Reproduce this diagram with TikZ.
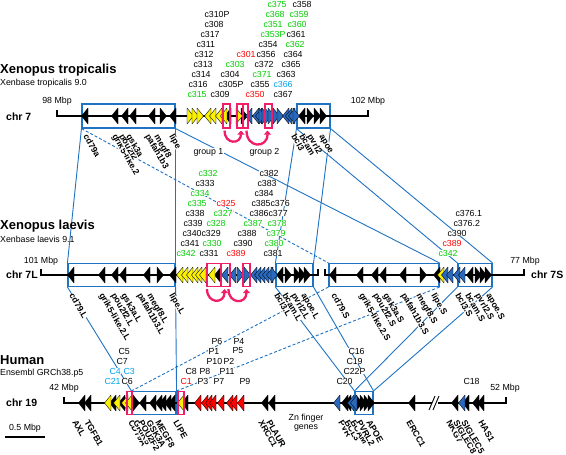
\documentclass[tikz,border=0pt]{standalone}
\usepackage{fontspec}
\setmainfont{Liberation Sans}
\usepackage{xcolor}
\usetikzlibrary{arrows.meta}

\definecolor{linkblue}{RGB}{30,115,195}
\definecolor{boxpink}{RGB}{240,30,105}
\definecolor{labgreen}{RGB}{0,205,0}
\definecolor{labred}{RGB}{255,0,0}
\definecolor{labcyan}{RGB}{0,165,235}
\definecolor{geneyellow}{RGB}{250,240,0}
\definecolor{geneblue}{RGB}{40,105,190}

% one gene arrow: x, y, direction (1 or -1), fill
\newcommand{\gn}[4]{\filldraw[fill=#4, draw=black, line width=0.35pt, line join=round] ({#1-(#3)*3},{#2-8}) -- ({#1+(#3)*3.5},#2) -- ({#1-(#3)*3},{#2+8}) -- cycle;}

\begin{document}
\begin{tikzpicture}[x=1pt, y=-1pt,
  gbox/.style={draw=linkblue, line width=1.1pt, inner sep=0pt, minimum height=23pt},
  pbox/.style={draw=boxpink, line width=1.1pt, inner sep=0pt, minimum height=23pt},
  link/.style={draw=linkblue, line width=0.9pt},
  dlink/.style={link, dash pattern=on 3pt off 2pt},
  chrline/.style={line width=1.2pt},
  shuffle/.style={boxpink, line width=2.3pt, -{Triangle[length=4pt,width=7pt]}, looseness=2.2},
  clab/.style={anchor=west, fill=white, inner sep=0.3pt, font=\fontsize{8.8}{9}\selectfont},
  glab/.style={anchor=west, rotate=-60, fill=white, inner sep=0pt, text height=5.6pt, text depth=1pt, font=\fontsize{8.7}{9}\selectfont\bfseries},
  mbp/.style={inner sep=0.5pt, font=\fontsize{8.8}{9}\selectfont},
  title/.style={anchor=west, inner sep=0pt, font=\fontsize{13}{14}\selectfont\bfseries},
  sub/.style={anchor=west, inner sep=0pt, font=\fontsize{8.8}{9}\selectfont},
  chr/.style={anchor=west, inner sep=0pt, font=\fontsize{10.5}{11}\selectfont\bfseries}]
\useasboundingbox (0,0) rectangle (566,455);

% syntenic blocks
\node[gbox, minimum width=93pt, minimum height=24pt] (t1) at (128.5,116) {};
\node[gbox, minimum width=33pt, minimum height=24pt] (t2) at (313.5,116) {};
\node[gbox, minimum width=107pt] (l1) at (121.5,275) {};
\node[gbox, minimum width=37pt] (l2) at (294.5,275) {};
\node[gbox, minimum width=110pt] (s1) at (384,275) {};
\node[gbox, minimum width=34pt] (s2) at (475,275) {};
\node[gbox, minimum width=44pt] (h1) at (154,403) {};
\node[gbox, minimum width=18pt] (h2) at (364,403) {};

% links between species
\draw[link] (t1.south west) -- (l1.north west);
\draw[link] (t1.south east) -- (l1.north east);
\draw[link] (t2.south west) -- (l2.north west);
\draw[link] (t2.south east) -- (l2.north east);
\draw[dlink] (t1.south west) -- (s1.north west);
\draw[link] (t1.south east) -- (s1.north east);
\draw[link] (t2.south west) -- (s2.north west);
\draw[link] (t2.south east) -- (s2.north east);
\draw[link] (l1.south west) -- (h1.north west);
\draw[link] (l1.south east) -- (h1.north east);
\draw[link] (l2.south west) -- (h2.north west);
\draw[link] (l2.south east) -- (h2.north east);
\draw[dlink] (s1.south west) -- (h1.north west);
\draw[dlink] (s1.south east) -- (h1.north east);
\draw[link] (s2.south west) -- (h2.north west);
\draw[link] (s2.south east) -- (h2.north east);

% chromosomes
\coordinate (c7a) at (57,116);  \coordinate (c7b) at (368,116);
\coordinate (c7La) at (41,275); \coordinate (c7Lb) at (318,275);
\coordinate (c7Sa) at (325,275); \coordinate (c7Sb) at (524,275);
\coordinate (c19a) at (64,403); \coordinate (c19b) at (506,403);
\draw[chrline] ([yshift=6pt]c7a) -- (c7a) -- (c7b) -- ([yshift=6pt]c7b);
\draw[chrline] ([yshift=6pt]c7La) -- (c7La) -- (c7Lb) -- ([yshift=6pt]c7Lb);
\draw[chrline] ([yshift=6pt]c7Sa) -- (c7Sa) -- (c7Sb) -- ([yshift=6pt]c7Sb);
\draw[chrline] ([yshift=6pt]c19a) -- (c19a) -- (c19b) -- ([yshift=6pt]c19b);
\fill[white] (432,399) rectangle (438,407);
\draw[line width=0.9pt] (429,410) -- (435,396) (433,410) -- (439,396);

% genes, X. tropicalis
\foreach \x/\d in {85/-1,115/-1,125/-1,133/-1,152/-1,163/1,173/-1,228/-1,244/1,302/-1,310/1,317/1,323/1}
  \gn{\x}{116}{\d}{black};
\foreach \x/\d in {190/1,195/1,200/1,208/-1,213/-1,219/-1,224/-1,239/1}
  \gn{\x}{116}{\d}{geneyellow};
\foreach \x/\d in {249/-1,256/-1,259/-1,262/1,265/1,268/1,271/1,276/1,280/1,286/-1,289/-1,292/-1,296/1}
  \gn{\x}{116}{\d}{geneblue};
% genes, X. laevis
\foreach \x/\d in {71/-1,102/-1,115/-1,123/-1,147/-1,160/1,173/-1,218/-1,280/-1,288/1,297/1,302/1,307/1,
  333/-1,360/-1,375/-1,383/-1,403/-1,423/1,437/-1,470/-1,478/1,483/1,488/1}
  \gn{\x}{275}{\d}{black};
\foreach \x/\d in {180/-1,185/-1,190/-1,195/-1,199/-1,203/-1,212/-1,441/-1}
  \gn{\x}{275}{\d}{geneyellow};
\foreach \x/\d in {225/-1,233/-1,240/1,247/1,254/-1,258/-1,262/-1,266/-1,270/-1,274/1,445/-1,450/-1,457/-1,462/-1}
  \gn{\x}{275}{\d}{geneblue};
% genes, human
\foreach \x/\d in {82/-1,88/-1,113/-1,122/-1,136/1,143/-1,153/-1,159/-1,163/-1,168/-1,172/-1,185/-1,
  265/-1,272/-1,345/-1,348/-1,359/1,363/1,367/1,371/1,412/-1,455/-1,466/-1,476/-1,481/-1}
  \gn{\x}{403}{\d}{black};
\foreach \x/\d in {108/-1,117/-1,125/-1,129/-1,181/-1}
  \gn{\x}{403}{\d}{geneyellow};
\foreach \x/\d in {198/-1,205/-1,209/-1,213/-1,221/-1,230/-1,234/-1,241/-1}
  \gn{\x}{403}{\d}{red};
\foreach \x/\d in {337/-1,351/-1,354/-1,462/-1}
  \gn{\x}{403}{\d}{geneblue};

% moved genes
\node[pbox, minimum width=7pt, minimum height=24pt] (tp1) at (226.5,116) {};
\node[pbox, minimum width=6pt, minimum height=24pt] (tp2) at (240,116) {};
\node[pbox, minimum width=5pt, minimum height=24pt] (tp3) at (245.5,116) {};
\node[pbox, minimum width=7pt, minimum height=24pt] (tp4) at (268.5,116) {};
\node[pbox, minimum width=14pt] (lp1) at (214,275) {};
\node[pbox, minimum width=9pt] (lp2) at (225.5,275) {};
\node[pbox, minimum width=7pt] (lp3) at (246.5,275) {};
\node[pbox, minimum width=5pt] (hp1) at (129.5,403) {};
\node[pbox, minimum width=6pt] (hp2) at (181,403) {};
\draw[shuffle] ([shift={(-2,2)}]tp1.south) to[out=-90,in=-90] ([shift={(1,2)}]tp2.south);
\draw[shuffle] ([shift={(1,2)}]tp3.south) to[out=-90,in=-90] ([shift={(-1,2)}]tp4.south);
\draw[shuffle] ([shift={(-7,2)}]lp1.south) to[out=-90,in=-90] ([shift={(-1,2)}]lp2.south);
\draw[shuffle] ([shift={(3,2)}]lp2.south) to[out=-90,in=-90] ([shift={(0,2)}]lp3.south);

% titles
\node[title] (ttro) at (0,70) {Xenopus tropicalis};
\node[sub] (stro) at (0,83) {Xenbase tropicalis 9.0};
\node[chr] (chr7) at (6,117) {chr 7};
\node[title] (tlae) at (0,226) {Xenopus laevis};
\node[sub] (slae) at (0,239) {Xenbase laevis 9.1};
\node[chr] (chr7L) at (6,275) {chr 7L};
\node[chr] (chr7S) at (531,275) {chr 7S};
\node[title] (thum) at (0,360) {Human};
\node[sub] (shum) at (0,373) {Ensembl GRCh38.p5};
\node[chr] (chr19) at (6,403) {chr 19};
\node[mbp] (m98) at (57,101) {98 Mbp};
\node[mbp] (m102) at (368,101) {102 Mbp};
\node[mbp] (m101) at (41,261) {101 Mbp};
\node[mbp] (m77) at (525,261) {77 Mbp};
\node[mbp] (m42) at (64,388) {42 Mbp};
\node[mbp] (m52) at (505,388) {52 Mbp};
\node[mbp] (scale) at (25,428) {0.5 Mbp};
\draw[line width=1.8pt] (5,437) -- (45,437);
\node[clab] (grp1) at (193,152) {group 1};
\node[clab] (grp2) at (249,152) {group 2};
\node[mbp, align=center] (zn) at (306,423) {Zn finger\\genes};

% copies, X. tropicalis
\foreach \t/\x/\y [count=\i] in {c310P/204/14,c308/204/24,c317/200/34,c311/196/44,c312/194/54,c313/193/64,
  c314/191/74,c316/188/84,c309/210/94,c304/220/74,c305P/218/84,c356/256/54,c372/254/64,c355/250/84,
  c358/292/4,c361/286/34,c354/258/44,c364/283/54,c365/281/64,c363/276/74,c367/273/94}
  \node[clab] (tk\i) at (\x,\y) {\t};
\foreach \t/\x/\y [count=\i] in {c375/267/4,c368/265/14,c359/289/14,c351/263/24,c360/287/24,c353P/260/34,
  c362/285/44,c303/225/64,c371/252/74,c315/187/94}
  \node[clab, text=labgreen] (tg\i) at (\x,\y) {\t};
\node[clab, text=labred] (tr1) at (236,54) {c301};
\node[clab, text=labred] (tr2) at (245,94) {c350};
\node[clab, text=labcyan] (tc1) at (273,84) {c366};

% copies, X. laevis
\foreach \t/\x/\y [count=\i] in {c382/259/173,c333/195/183,c383/257/183,c384/254/193,c385c376/251/203,
  c338/185/213,c386c377/249/213,c339/183/223,c340c329/182/233,c388/237/233,c341/180/243,c390/233/243,
  c331/199/253,c381/263/253,c376.1/455/213,c376.2/453/223,c390/447/233}
  \node[clab] (lk\i) at (\x,\y) {\t};
\foreach \t/\x/\y [count=\i] in {c332/198/173,c334/190/193,c335/187/203,c327/213/213,c328/206/223,
  c387/243/223,c378/267/223,c379/266/233,c330/202/243,c380/264/243,c342/176/253,c342/438/253}
  \node[clab, text=labgreen] (lg\i) at (\x,\y) {\t};
\foreach \t/\x/\y [count=\i] in {c325/216/203,c389/226/253,c389/442/243}
  \node[clab, text=labred] (lr\i) at (\x,\y) {\t};

% copies, human
\foreach \t/\x/\y [count=\i] in {C5/118/351,C7/116/361,C6/121/381,C8/185/371,P8/199/371,P3/197/381,
  P7/213/381,P9/239/381,P6/211/341,P4/233/341,P1/208/351,P5/232/351,P10/206/361,P2/223/361,P11/219/371,
  C16/348/351,C19/346/361,C22P/343/371,C20/336/381,C18/463/381}
  \node[clab] (hk\i) at (\x,\y) {\t};
\foreach \t/\x/\y [count=\i] in {C4/109/371,C3/123/371,C21/104/381}
  \node[clab, text=labcyan] (hc\i) at (\x,\y) {\t};
\node[clab, text=labred] (hr1) at (180,381) {C1};

% gene names
\foreach \t/\x [count=\i] in {cd79a/85,grik5-like.2/114,pou2f2/121,gsk3a/128,pafah1b3/147,megf8/156,
  lipe/171,bcl3/293,bcam/301,pvrl2/309,apoe/321}
  \node[glab] (tn\i) at (\x,135) {\t};
\foreach \t/\x [count=\i] in {cd79.L/71,grik5-like.2.L/101,pou2f2.L/113,gsk3a.L/123,pafah1b3.L/139,
  megf8.L/149,lipe.L/171,bcl3.L/276,bcam.L/284,pvrl2.L/293,apoe.L/303}
  \node[glab] (ln\i) at (\x,294) {\t};
\foreach \t/\x [count=\i] in {cd79.S/333,grik5-like.2.S/361,pou2f2.S/375,gsk3a.S/385,pafah1b3.S/403,
  megf8.S/418,lipe.S/433,bcl3.S/457,bcam.S/467,pvrl2.S/477,apoe.S/488}
  \node[glab] (sn\i) at (\x,294) {\t};
\foreach \t/\x [count=\i] in {AXL/74,TGFB1/86,CD79A/130,GRIK5/135,POU2F2/140,GSK3A/148,MEGF8/157,
  LIPE/175,XRCC1/260,PLAUR/268,PVR/340,BCL3/346,BCAM/352,PVRL2/358,APOE/368,ERCC1/408,NKG7/448,
  SIGLEC8/455,SIGLEC5/463,HAS1/480}
  \node[glab] (hn\i) at (\x,421) {\t};
\end{tikzpicture}
\end{document}
